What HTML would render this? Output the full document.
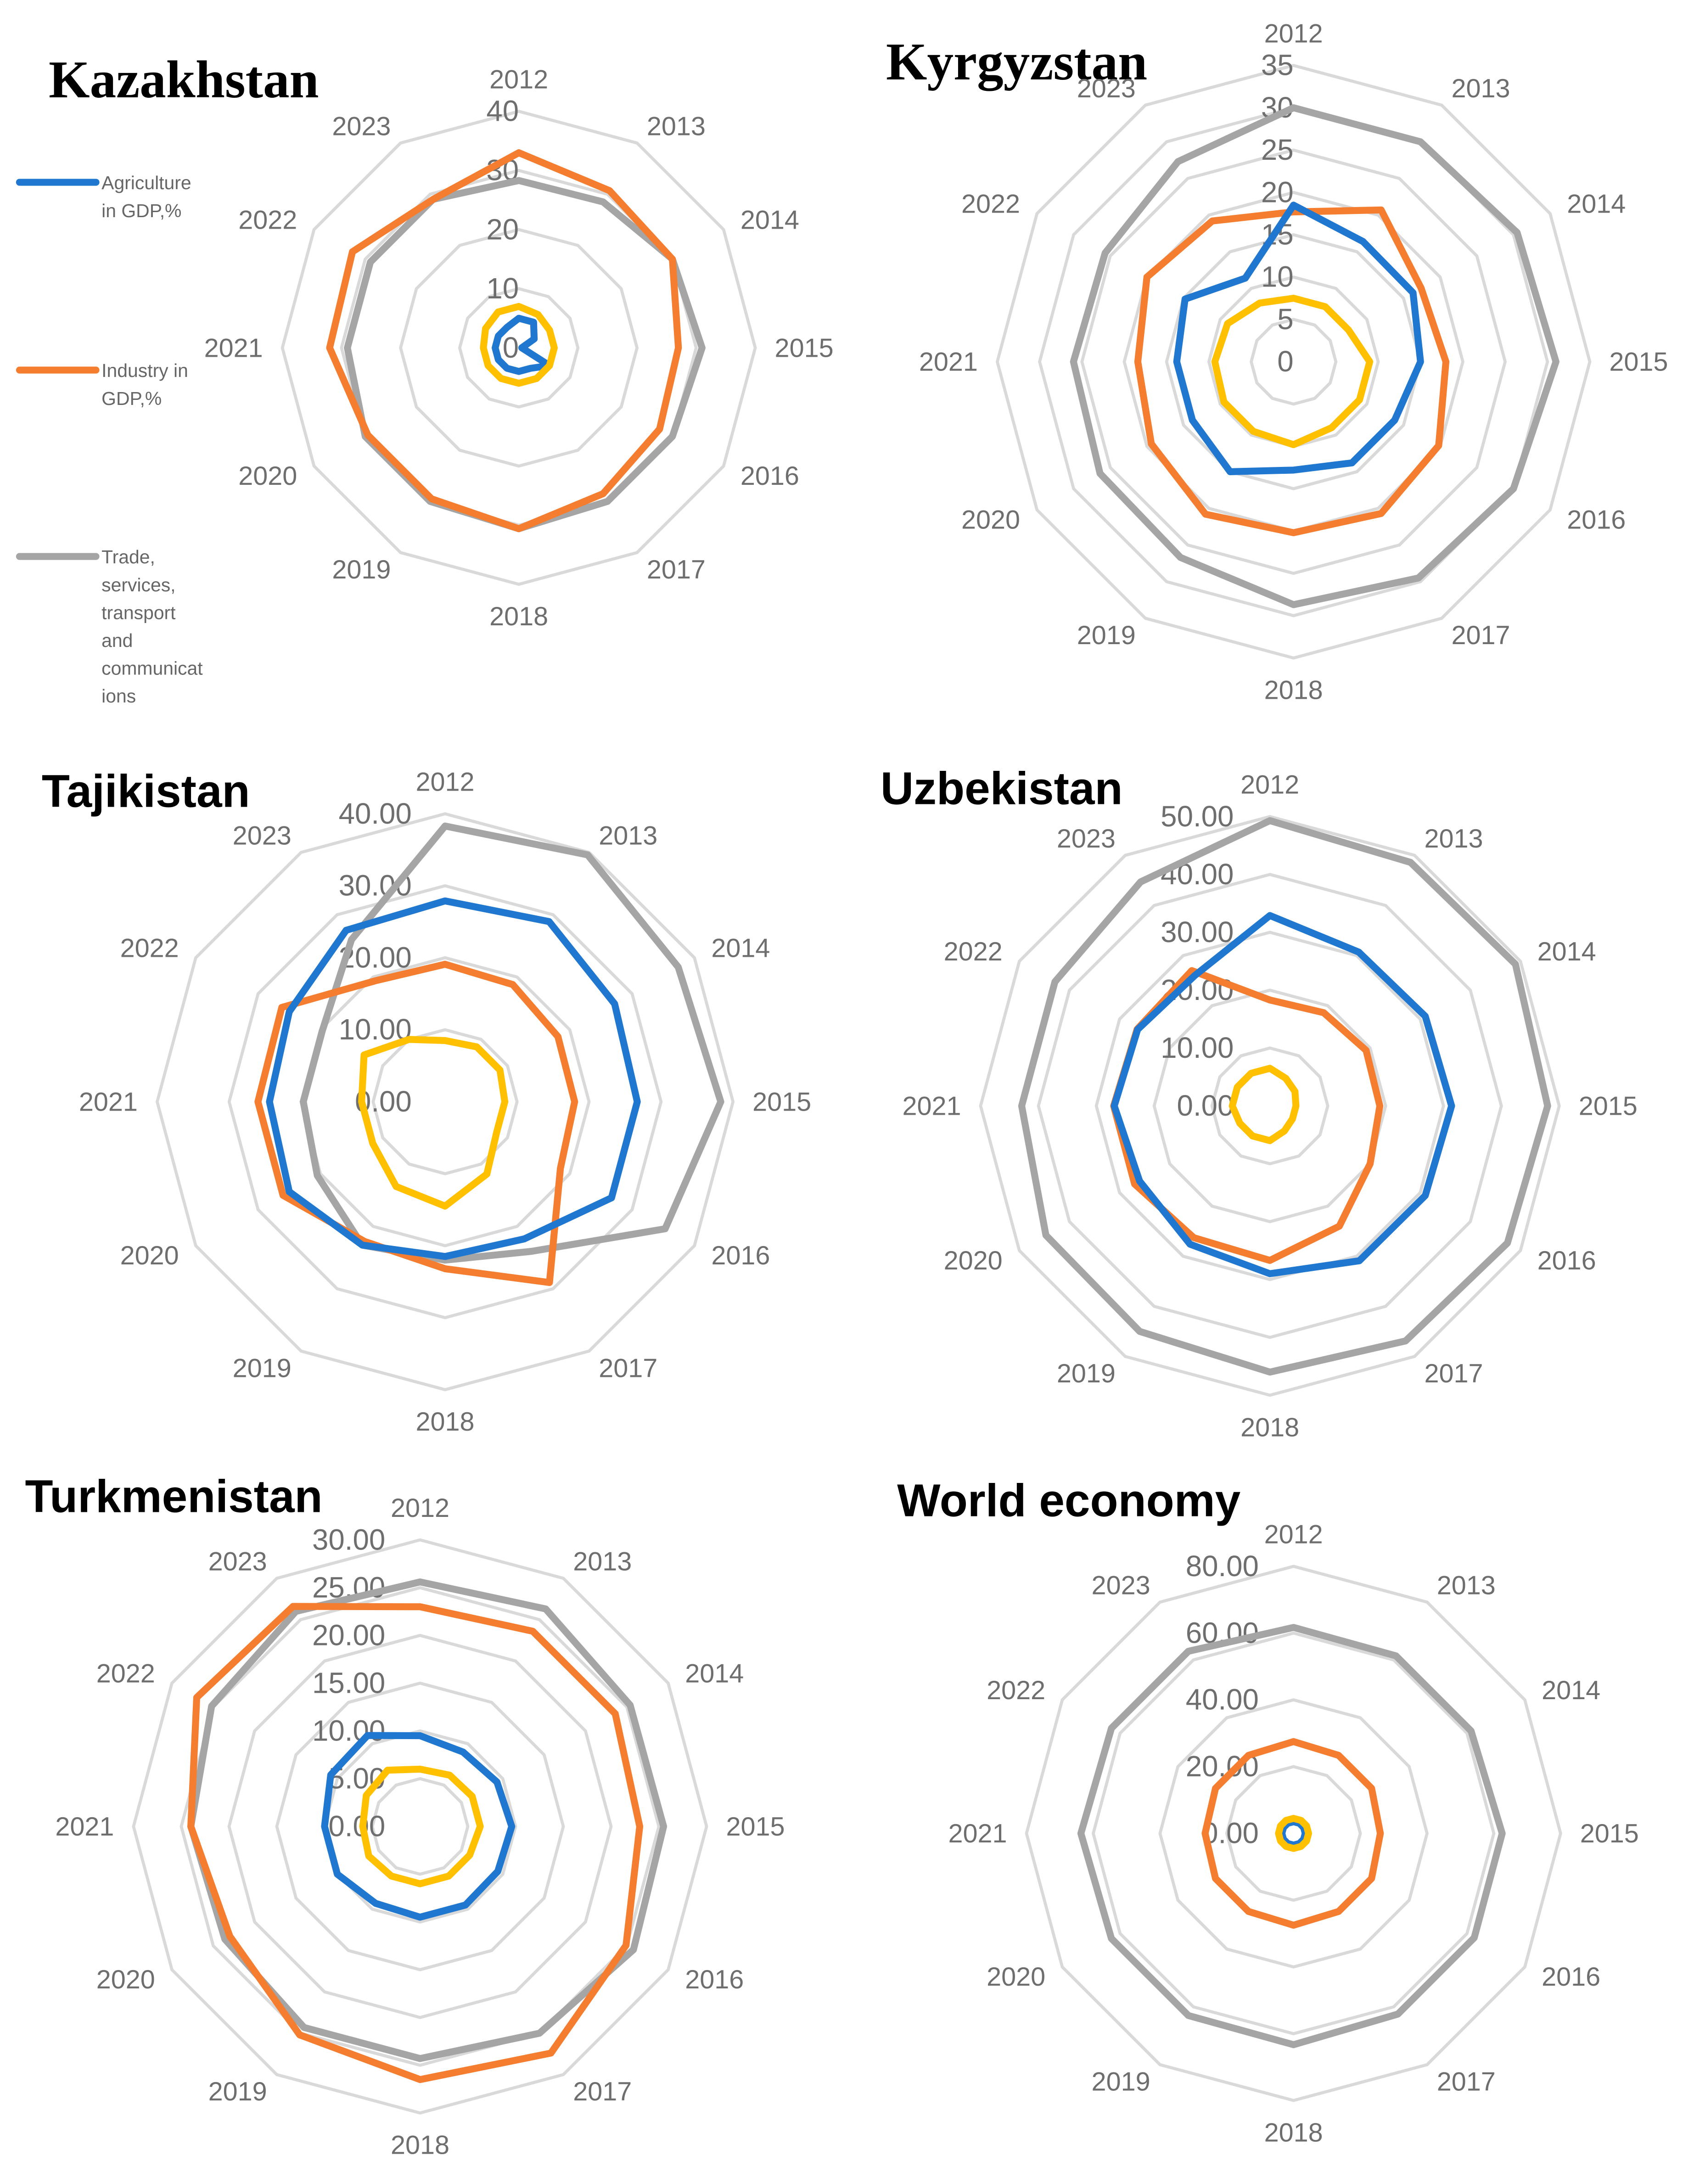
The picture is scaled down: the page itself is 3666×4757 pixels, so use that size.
<!DOCTYPE html>
<html><head><meta charset="utf-8"><style>
html,body{margin:0;padding:0;background:#fff;}
svg{display:block;}
</style></head><body>
<svg id="root" width="3666" height="4757" viewBox="0 0 1210 1570" xmlns="http://www.w3.org/2000/svg">
<g id="titles" font-weight="bold" fill="#000">
<text x="35" y="70" font-family="Liberation Serif, serif" font-size="38">Kazakhstan</text>
<text x="637" y="57" font-family="Liberation Serif, serif" font-size="38">Kyrgyzstan</text>
<text x="30" y="580" font-family="Liberation Sans, sans-serif" font-size="33">Tajikistan</text>
<text x="633" y="578" font-family="Liberation Sans, sans-serif" font-size="33">Uzbekistan</text>
<text x="18" y="1087" font-family="Liberation Sans, sans-serif" font-size="33">Turkmenistan</text>
<text x="645" y="1090" font-family="Liberation Sans, sans-serif" font-size="33">World economy</text>
</g>
<g id="legend" font-family="Liberation Sans, sans-serif" font-size="13.5" fill="#666">
<line x1="14" y1="131" x2="69" y2="131" stroke="#1F77CF" stroke-width="5" stroke-linecap="round"/>
<text x="73" y="136"><tspan x="73">Agriculture</tspan><tspan x="73" dy="20">in GDP,%</tspan></text>
<line x1="14" y1="266" x2="69" y2="266" stroke="#F47D2F" stroke-width="5" stroke-linecap="round"/>
<text x="73" y="271"><tspan x="73">Industry in</tspan><tspan x="73" dy="20">GDP,%</tspan></text>
<line x1="14" y1="400" x2="69" y2="400" stroke="#A5A5A5" stroke-width="5" stroke-linecap="round"/>
<text x="73" y="405"><tspan x="73">Trade,</tspan><tspan x="73" dy="20">services,</tspan><tspan x="73" dy="20">transport</tspan><tspan x="73" dy="20">and</tspan><tspan x="73" dy="20">communicat</tspan><tspan x="73" dy="20">ions</tspan></text>
</g>
<g id="charts"></g>
</svg>
<script>
const years = ["2012","2013","2014","2015","2016","2017","2018","2019","2020","2021","2022","2023"];
const seriesNames = ["agriculture","industry","trade","other"];
const seriesColors = ["#1F77CF","#F47D2F","#A5A5A5","#FFC000"];

const kazAgri = [5,5,3,0.5,6,4,4,4,4,4,4,4];
const kazInd = [33,30.7,30,27,27.5,28.5,30.6,29.5,29.5,32,32.5,29];
const kazTrade = [28.3,28.5,30,31,30,30,30.6,30,30,29,29,29];
const kazOther = [7,6.5,6,6,6,6,6,6,6,6,6.5,7];
const kazTicks = ["0","10","20","30","40"];

const kyrAgri = [18.5,16.4,16.3,15,13.8,13.8,12.8,15,13.8,13.8,14.8,11.4];
const kyrInd = [17.7,20.7,17.4,18,19.8,20.7,20.2,20.8,19.4,18.4,20,19.2];
const kyrTrade = [30,30,30.5,31,30,29.5,28.7,26.7,26.4,26,25.7,27.3];
const kyrOther = [7.5,7.5,7.5,9,9,9,9.8,9.5,9.5,9.3,9,8];
const kyrTicks = ["0","5","10","15","20","25","30","35"];

const tajAgri = [27.9,28.9,27.2,26.7,26.7,22,21.5,23,25,24.4,25,27.5];
const tajInd = [19.1,18.8,18.1,18,18.5,29,23.2,22.4,26,26,26.2,19.4];
const tajTrade = [38.3,39.6,37.4,38.3,35.3,24,22,23,20.5,19.7,19.7,26];
const tajOther = [8.5,8.8,8.8,8.3,8.3,11.6,14.5,13.6,11.6,11.6,13,10];
const tajTicks = ["0.00","10.00","20.00","30.00","40.00"];

const uzbAgri = [32.9,30.7,31,31.4,31,30.9,29,27.6,26,26.9,26.4,26];
const uzbInd = [18.3,18.6,19.2,19,20,24,26.7,26.3,27,27,26.5,27];
const uzbTrade = [49.3,48.6,49,48,47.4,46.9,46,45,44.7,42.9,42.9,44.7];
const uzbOther = [6.5,5.5,5,4.5,4.5,5,6,6,6,6.5,6.5,6.5];
const uzbTicks = ["0.00","10.00","20.00","30.00","40.00","50.00"];

const turAgri = [9.5,9,9.3,9.6,9.4,9.5,9.5,9.3,10,10,10.8,11];
const turInd = [23,23.6,23.6,23,24.9,27.4,26.5,25.2,23,24,27,26.6];
const turTrade = [25.6,26.3,25.4,25.5,25.8,25,24.3,24.3,23.6,24,25.2,26];
const turOther = [6,6.2,6.3,6.3,6,6,6,6,6.2,6,6.5,6.8];
const turTicks = ["0.00","5.00","10.00","15.00","20.00","25.00","30.00"];

const wldAgri = [3.5,3.5,3.5,3.5,3.5,3.5,3.5,3.5,3.5,3.5,3.5,3.5];
const wldInd = [27.5,27,27,26,27,27,27.5,27,27,26.5,27,27];
const wldTrade = [61.7,61.4,61.4,62.5,62.5,62.5,63.3,63,63,63.7,63,63];
const wldOther = [4.5,4.5,4.5,4.5,4.5,4.5,4.5,4.5,4.5,4.5,4.5,4.5];
const wldTicks = ["0.00","20.00","40.00","60.00","80.00"];

const charts = [
 {id:"kazakhstan",cx:373,cy:250,R:170,max:40,step:10,ticks:kazTicks,off:0,data:[kazAgri,kazInd,kazTrade,kazOther]},
 {id:"kyrgyzstan",cx:930,cy:260,R:213,max:35,step:5,ticks:kyrTicks,off:0,data:[kyrAgri,kyrInd,kyrTrade,kyrOther]},
 {id:"tajikistan",cx:320,cy:792,R:207,max:40,step:10,ticks:tajTicks,off:24,data:[tajAgri,tajInd,tajTrade,tajOther]},
 {id:"uzbekistan",cx:913,cy:795,R:208,max:50,step:10,ticks:uzbTicks,off:26,data:[uzbAgri,uzbInd,uzbTrade,uzbOther]},
 {id:"turkmenistan",cx:302,cy:1313,R:206,max:30,step:5,ticks:turTicks,off:25,data:[turAgri,turInd,turTrade,turOther]},
 {id:"world-economy",cx:930,cy:1318,R:192,max:80,step:20,ticks:wldTicks,off:25,data:[wldAgri,wldInd,wldTrade,wldOther]}
];
const NS="http://www.w3.org/2000/svg";
const root=document.getElementById("charts");
function mk(tag,attrs,parent){const e=document.createElementNS(NS,tag);for(const k in attrs)e.setAttribute(k,attrs[k]);parent.appendChild(e);return e;}
function ang(i){return -Math.PI/2+i*2*Math.PI/years.length;}
function pt(c,i,v){const a=ang(i);const r=v/c.max*c.R;return [c.cx+r*Math.cos(a),c.cy+r*Math.sin(a)];}
charts.forEach(c=>{
 const g=mk("g",{},root);
 
 
 for(let v=c.step;v<=c.max+1e-9;v+=c.step){
  const p=years.map((y,i)=>pt(c,i,v).join(",")).join(" ");
  const ring=mk("polygon",{points:p,fill:"none",stroke:"#D9D9D9","stroke-width":2.2},g);
  
  
 }
 years.forEach((y,i)=>{
  const a=ang(i);const cs=Math.cos(a),sn=Math.sin(a);
  const r=c.R+14;
  let x=c.cx+r*cs, yy=c.cy+r*sn;
  let anchor="middle";
  if(cs>0.01)anchor="start"; else if(cs<-0.01)anchor="end";
  if(Math.abs(cs)<0.01) yy+=sn*9;
  const t=mk("text",{x:x,y:yy+6.5,"text-anchor":anchor,"font-family":"Liberation Sans, sans-serif","font-size":19,fill:"#6E6E6E"},g);
  t.textContent=y;
  
  
 });
 c.ticks.forEach((lab,i)=>{
  const v=i*c.step;
  const t=mk("text",{x:c.cx-c.off,y:c.cy-v/c.max*c.R+7,"text-anchor":"end","font-family":"Liberation Sans, sans-serif","font-size":21,fill:"#6E6E6E"},g);
  t.textContent=lab;
  
  
 });
 [2,1,0,3].forEach(s=>{
  const p=c.data[s].map((v,i)=>pt(c,i,v).join(",")).join(" ");
  const pl=mk("polygon",{points:p,fill:"none",stroke:seriesColors[s],"stroke-width":5,"stroke-linejoin":"round"},g);
  
  
 });
});
</script>
</body></html>
